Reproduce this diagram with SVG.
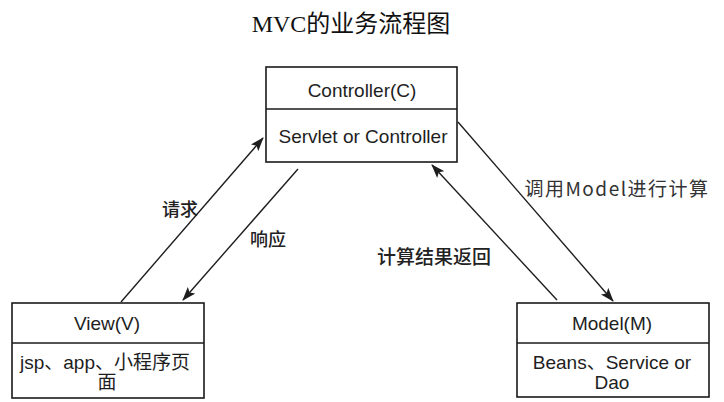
<svg xmlns="http://www.w3.org/2000/svg" width="724" height="402" viewBox="0 0 724 402">
<style>
.box{fill:#fff;stroke:#1a1a1a;stroke-width:1.6}
.div{stroke:#1a1a1a;stroke-width:1.6}
.t{font-family:"Liberation Sans","Noto Sans CJK SC",Arial,sans-serif;font-size:19px;fill:#1e1e1e;text-anchor:middle;dominant-baseline:central}
.lab{font-family:"Noto Sans CJK SC","Liberation Sans",sans-serif;font-size:18px;fill:#222;text-anchor:middle;dominant-baseline:central;font-weight:500}
.edge{stroke:#1e1e1e;stroke-width:1.4;fill:none;marker-end:url(#ah)}
</style>
<defs>
<marker id="ah" viewBox="0 0 14 10" refX="13" refY="5" markerWidth="14" markerHeight="10" markerUnits="userSpaceOnUse" orient="auto">
<path d="M0,0 L14,5 L0,10 L3,5 Z" fill="#1e1e1e"/>
</marker>
</defs>
<rect width="724" height="402" fill="#fff"/>
<text x="351" y="32" font-family="'Liberation Serif','Noto Sans CJK SC',serif" font-size="24" fill="#111" text-anchor="middle">MVC的业务流程图</text>
<g id="controller">
<rect class="box" x="266" y="67" width="191" height="95"/>
<line class="div" x1="266" y1="109" x2="457" y2="109"/>
<text class="t" x="362" y="90">Controller(C)</text>
<text class="t" x="363" y="136">Servlet or Controller</text>
</g>
<g id="view">
<rect class="box" x="12" y="303" width="192" height="95"/>
<line class="div" x1="12" y1="343" x2="204" y2="343"/>
<text class="t" x="107" y="323">View(V)</text>
<text class="t" x="105" y="362">jsp、app、小程序页</text>
<text class="t" x="107" y="382">面</text>
</g>
<g id="model">
<rect class="box" x="517" y="303" width="192" height="94"/>
<line class="div" x1="517" y1="343" x2="709" y2="343"/>
<text class="t" x="612" y="323">Model(M)</text>
<text class="t" x="612" y="362">Beans、Service or</text>
<text class="t" x="612" y="382">Dao</text>
</g>
<g id="connectors">
<line class="edge" x1="121" y1="302" x2="263" y2="138"/>
<line class="edge" x1="298" y1="169" x2="183" y2="300"/>
<line class="edge" x1="458" y1="122" x2="613" y2="301"/>
<line class="edge" x1="557" y1="300" x2="432" y2="165"/>
<text class="lab" x="180" y="208">请求</text>
<text class="lab" x="268" y="238">响应</text>
<text x="617" y="187" font-family="'Noto Sans CJK SC','Liberation Sans',sans-serif" font-size="19" fill="#333" text-anchor="middle" dominant-baseline="central" letter-spacing="1.5">调用Model进行计算</text>
<text class="lab" x="434" y="255" style="font-size:19px">计算结果返回</text>
</g>
</svg>
